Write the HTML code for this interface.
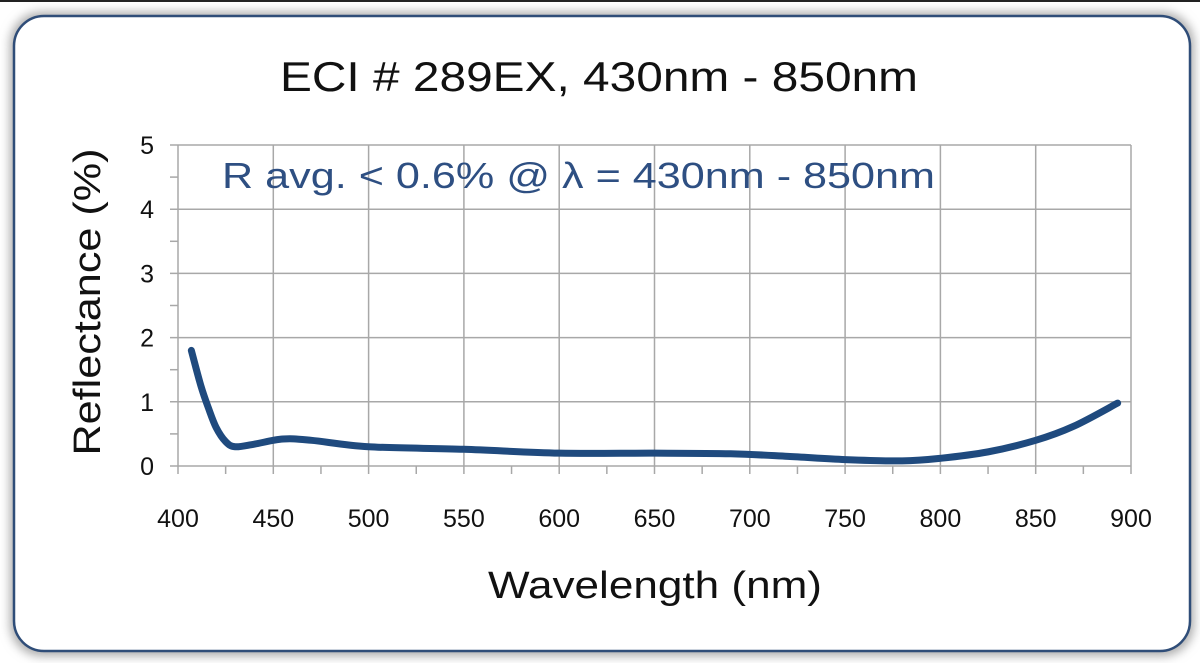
<!DOCTYPE html>
<html><head><meta charset="utf-8"><style>
body{margin:0;background:#fff;}
svg text{font-family:"Liberation Sans",sans-serif;}
</style></head><body>
<svg width="1200" height="663" viewBox="0 0 1200 663">
<defs><filter id="sh" x="-5%" y="-5%" width="110%" height="110%"><feGaussianBlur stdDeviation="5"/></filter></defs>
<line x1="0" y1="1" x2="1200" y2="1" stroke="#222" stroke-width="2"/>
<rect x="10" y="12" width="1184" height="644" rx="32" fill="#aaa" filter="url(#sh)"/>
<rect x="14" y="16" width="1176" height="635" rx="30" fill="#fff" stroke="#2f4d78" stroke-width="2.5"/>
<text x="280" y="91" font-size="42" textLength="638" lengthAdjust="spacingAndGlyphs" fill="#111">ECI # 289EX, 430nm - 850nm</text>
<g id="grid"></g>
<g id="ticks"></g>
<text x="222" y="188" font-size="36" textLength="713" lengthAdjust="spacingAndGlyphs" fill="#2e4f82">R avg. &lt; 0.6% @ λ = 430nm - 850nm</text>
<path id="line" fill="none" stroke="#1f4a7e" stroke-width="7" stroke-linecap="round"/>
<text transform="translate(100,302) rotate(-90)" font-size="38" text-anchor="middle" textLength="307" lengthAdjust="spacingAndGlyphs" fill="#111">Reflectance (%)</text>
<text x="655" y="598" font-size="38" text-anchor="middle" textLength="334" lengthAdjust="spacingAndGlyphs" fill="#111">Wavelength (nm)</text>
</svg>
<script>
const xTicks=[400,450,500,550,600,650,700,750,800,850,900];
const yTicks=[0,1,2,3,4,5];
const wavelengths=[407,412,416,420,425,430,440,455,470,500,550,600,650,690,720,750,780,800,825,850,870,893];
const reflectance=[1.8,1.25,0.9,0.6,0.38,0.3,0.34,0.42,0.4,0.3,0.26,0.2,0.2,0.19,0.15,0.1,0.08,0.12,0.22,0.4,0.62,0.98];
const X=v=>178+(v-400)*(1131-178)/500;
const Y=v=>466-v*(466-145)/5;
const NS='http://www.w3.org/2000/svg';
const grid=document.getElementById('grid'),tk=document.getElementById('ticks');
function ln(x1,y1,x2,y2,w,name){const l=document.createElementNS(NS,'line');
l.setAttribute('x1',x1);l.setAttribute('y1',y1);l.setAttribute('x2',x2);l.setAttribute('y2',y2);
l.setAttribute('stroke','#a8a8a8');l.setAttribute('stroke-width',w);


grid.appendChild(l);}
function tx(x,y,s,anchor,name){const t=document.createElementNS(NS,'text');
t.setAttribute('x',x);t.setAttribute('y',y);t.setAttribute('font-size','25');t.setAttribute('text-anchor',anchor);t.setAttribute('fill','#111');t.textContent=s;


tk.appendChild(t);}
xTicks.forEach(v=>{ln(X(v),Y(5),X(v),Y(0)+8,1.5,'x-gridline');tx(X(v),527,String(v),'middle','x-tick-label');});
for(let i=0;i<xTicks.length-1;i++){const m=(xTicks[i]+xTicks[i+1])/2;ln(X(m),Y(0),X(m),Y(0)+8,1.5,'x-minor-tick');}
yTicks.forEach(v=>{ln(X(400)-8,Y(v),X(900),Y(v),1.5,'y-gridline');tx(154,Y(v)+9,String(v),'end','y-tick-label');});
for(let i=0;i<yTicks.length-1;i++){const m=(yTicks[i]+yTicks[i+1])/2;ln(X(400)-8,Y(m),X(400),Y(m),1.5,'y-minor-tick');}
const P=wavelengths.map((w,i)=>[X(w),Y(reflectance[i])]);
let d='M'+P[0][0]+','+P[0][1];
for(let i=0;i<P.length-1;i++){const p0=P[Math.max(0,i-1)],p1=P[i],p2=P[i+1],p3=P[Math.min(P.length-1,i+2)];
d+=' C'+(p1[0]+(p2[0]-p0[0])/6)+','+(p1[1]+(p2[1]-p0[1])/6)+' '+(p2[0]-(p3[0]-p1[0])/6)+','+(p2[1]-(p3[1]-p1[1])/6)+' '+p2[0]+','+p2[1];}
document.getElementById('line').setAttribute('d',d);
</script>
</body></html>
